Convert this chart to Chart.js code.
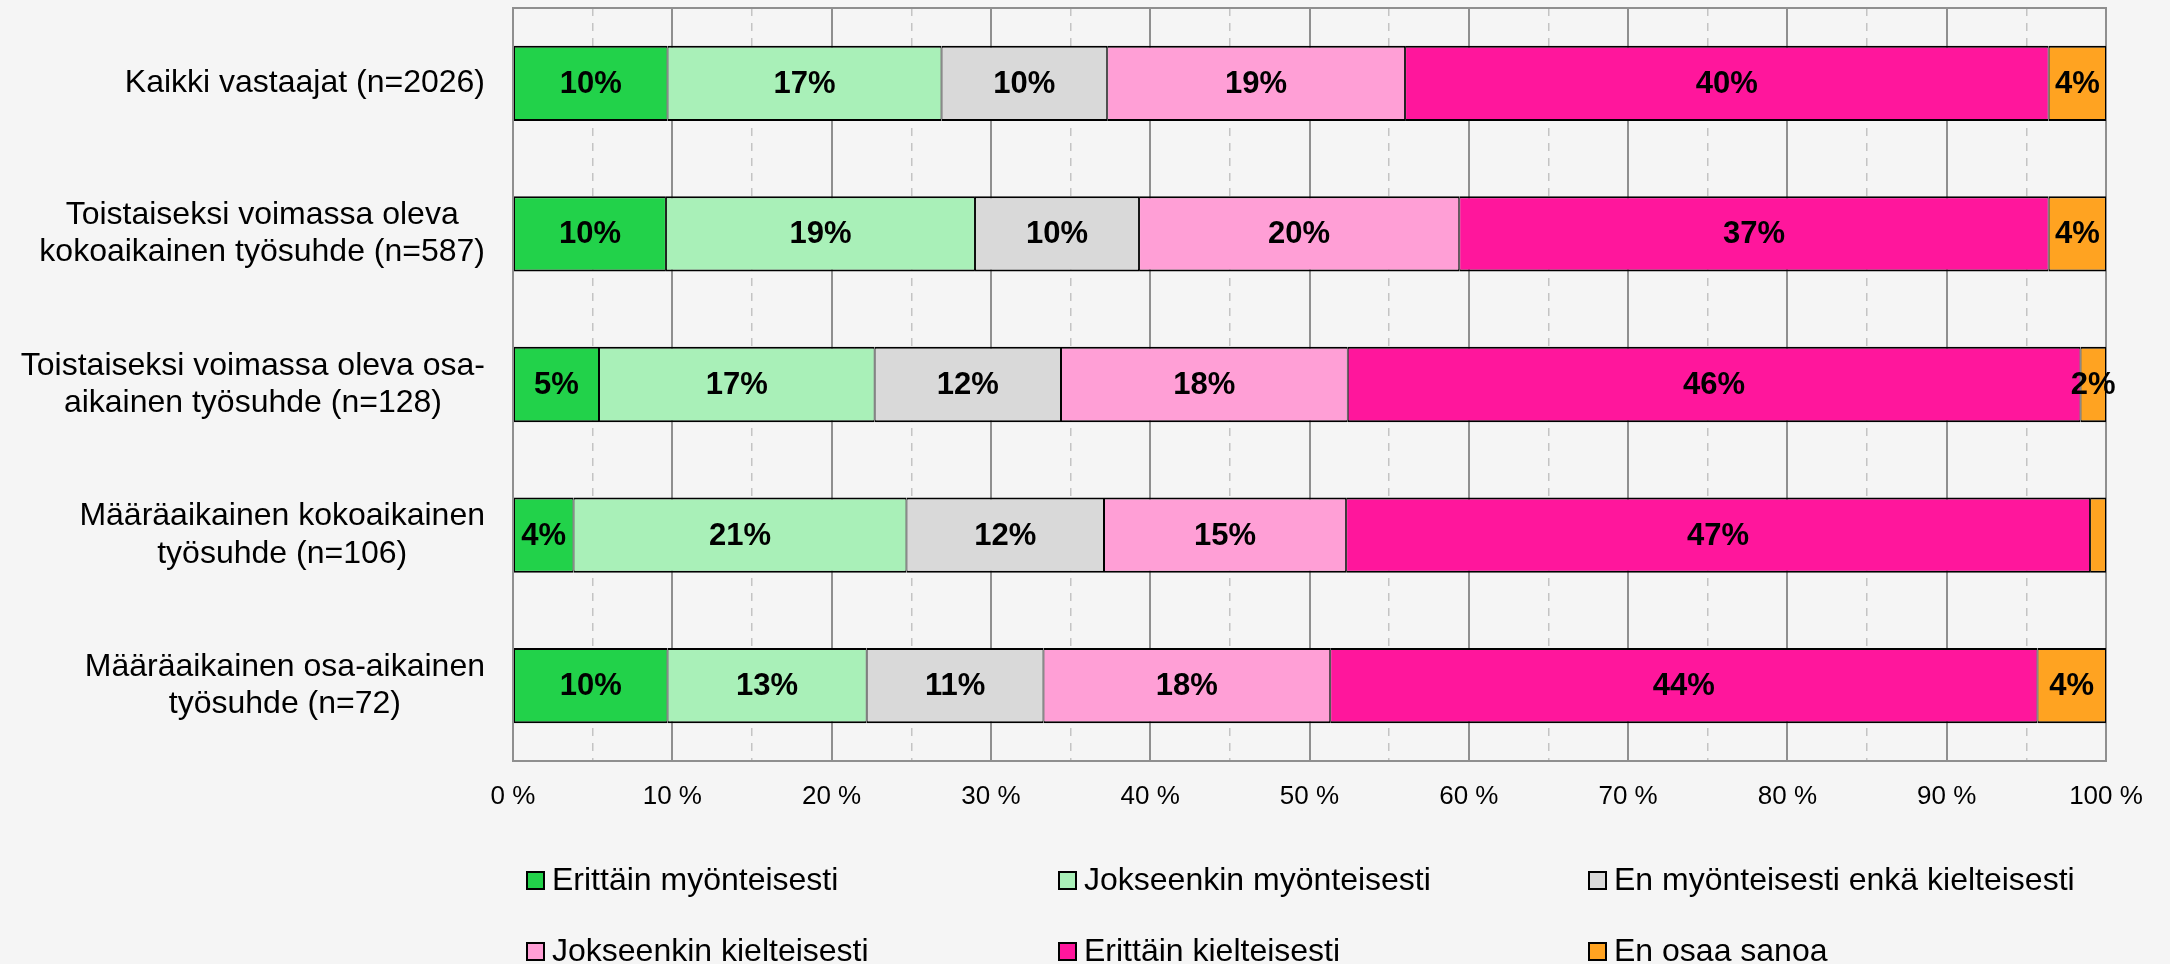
<!DOCTYPE html>
<html>
<head>
<meta charset="utf-8">
<script src="https://cdn.jsdelivr.net/npm/chart.js@4/dist/chart.umd.min.js"></script>
<style>
  body { margin: 0; background: #f5f5f5; }
  #wrap { width: 2170px; height: 964px; }
</style>
</head>
<body>
<div id="wrap"><canvas id="chart" width="2170" height="964"></canvas></div>
<script>
// categories (one line per array entry)
var categories = [
  ["Kaikki vastaajat (n=2026)"],
  ["Toistaiseksi voimassa oleva", "kokoaikainen työsuhde (n=587)"],
  ["Toistaiseksi voimassa oleva osa-", "aikainen työsuhde (n=128)"],
  ["Määräaikainen kokoaikainen", "työsuhde (n=106)"],
  ["Määräaikainen osa-aikainen", "työsuhde (n=72)"]
];

var seriesNames = [
  "Erittäin myönteisesti",
  "Jokseenkin myönteisesti",
  "En myönteisesti enkä kielteisesti",
  "Jokseenkin kielteisesti",
  "Erittäin kielteisesti",
  "En osaa sanoa"
];

// shares in %
var erittainMyont   = [9.7, 9.6, 5.4, 3.8, 9.7];
var jokseenkinMyont = [17.2, 19.4, 17.3, 20.9, 12.5];
var enMyontEnKielt  = [10.4, 10.3, 11.7, 12.4, 11.1];
var jokseenkinKielt = [18.7, 20.1, 18.0, 15.2, 18.0];
var erittainKielt   = [40.4, 37.0, 46.0, 46.7, 44.4];
var enOsaaSanoa     = [3.6, 3.6, 1.6, 1.0, 4.3];

var xTicks = [0, 10, 20, 30, 40, 50, 60, 70, 80, 90, 100];

var colors = ["#22d24a", "#a9f0b8", "#d9d9d9", "#ff9fd6", "#ff169c", "#ffa321"];

var FONT = 'Arial, "Liberation Sans", sans-serif';
Chart.defaults.font.family = FONT;
Chart.defaults.color = "#000";

var allSeries = [erittainMyont, jokseenkinMyont, enMyontEnKielt, jokseenkinKielt, erittainKielt, enOsaaSanoa];

var datasets = allSeries.map(function (d, i) {
  return {
    label: seriesNames[i],
    data: d,
    backgroundColor: colors[i],
    borderColor: "#000",
    borderWidth: { top: 2, bottom: 2, left: 1, right: 1 },
    borderSkipped: false,
    barPercentage: 0.5,
    categoryPercentage: 1.0
  };
});

// frame around plot + category labels + value labels + legend
var drawExtras = {
  id: "drawExtras",
  beforeDatasetsDraw: function (chart) {
    var ctx = chart.ctx, a = chart.chartArea;
    ctx.save();
    ctx.strokeStyle = "#8f8f8f";
    ctx.lineWidth = 2;
    ctx.strokeRect(a.left, a.top, a.right - a.left, a.bottom - a.top);
    ctx.restore();
  },
  afterDatasetsDraw: function (chart) {
    var ctx = chart.ctx;
    ctx.save();
    // value labels
    ctx.font = "bold 31px " + FONT;
    ctx.fillStyle = "#000";
    ctx.textAlign = "center";
    ctx.textBaseline = "middle";
    chart.data.datasets.forEach(function (ds, di) {
      var meta = chart.getDatasetMeta(di);
      meta.data.forEach(function (bar, i) {
        var v = ds.data[i];
        if (v < 1.5) return;
        var p = bar.getCenterPoint();
        ctx.fillText(Math.round(v) + "%", p.x, p.y + 1);
      });
    });

    // category labels: block right aligned, lines centered
    var yScale = chart.scales.y;
    ctx.font = "32px " + FONT;
    var rightEdge = chart.chartArea.left - 28;
    var lineH = 37.5;
    categories.forEach(function (lines, i) {
      var yc = yScale.getPixelForValue(i);
      var w = 0;
      lines.forEach(function (l) { w = Math.max(w, ctx.measureText(l).width); });
      var xc = rightEdge - w / 2;
      var y0 = yc - (lines.length - 1) * lineH / 2;
      lines.forEach(function (l, k) {
        ctx.fillText(l, xc, y0 + k * lineH);
      });
    });

    // legend, 3 columns x 2 rows
    var colX = [527, 1059, 1589];
    var rowY = [880, 951];
    ctx.textAlign = "left";
    chart.data.datasets.forEach(function (ds, i) {
      var x = colX[i % 3], y = rowY[Math.floor(i / 3)];
      ctx.fillStyle = ds.backgroundColor;
      ctx.fillRect(x, y - 8, 17, 17);
      ctx.strokeStyle = "#000";
      ctx.lineWidth = 2;
      ctx.strokeRect(x, y - 8, 17, 17);
      ctx.fillStyle = "#000";
      ctx.fillText(ds.label, x + 25, y + 1);
    });
    ctx.restore();
  }
};

new Chart(document.getElementById("chart"), {
  type: "bar",
  data: {
    labels: categories,
    datasets: datasets
  },
  options: {
    indexAxis: "y",
    responsive: false,
    animation: false,
    layout: { padding: { top: 8, right: 64, bottom: 0, left: 0 } },
    plugins: {
      legend: { display: false },
      tooltip: { enabled: false }
    },
    scales: {
      x: {
        stacked: true,
        min: 0,
        max: 100,
        afterBuildTicks: function (scale) {
          var t = [];
          for (var v = 0; v <= 100; v += 5) t.push({ value: v });
          scale.ticks = t;
        },
        afterFit: function (scale) { scale.height = 203; },
        ticks: {
          autoSkip: false,
          maxRotation: 0,
          padding: 20,
          font: { size: 26 },
          color: "#000",
          callback: function (v) { return xTicks.indexOf(v) >= 0 ? v + " %" : ""; }
        },
        grid: {
          drawTicks: false,
          color: function (c) { return c.tick && c.tick.value % 10 !== 0 ? "#c4c4c4" : "#8f8f8f"; },
          lineWidth: function (c) { return c.tick && c.tick.value % 10 !== 0 ? 1.5 : 2; }
        },
        border: {
          color: "#8f8f8f",
          width: 2,
          dash: function (c) { return c.tick && c.tick.value % 10 !== 0 ? [8, 7] : []; }
        }
      },
      y: {
        stacked: true,
        afterFit: function (scale) { scale.width = 513; },
        ticks: { display: false },
        grid: { display: false },
        border: { color: "#8f8f8f", width: 2 }
      }
    }
  },
  plugins: [drawExtras]
});
</script>
</body>
</html>
